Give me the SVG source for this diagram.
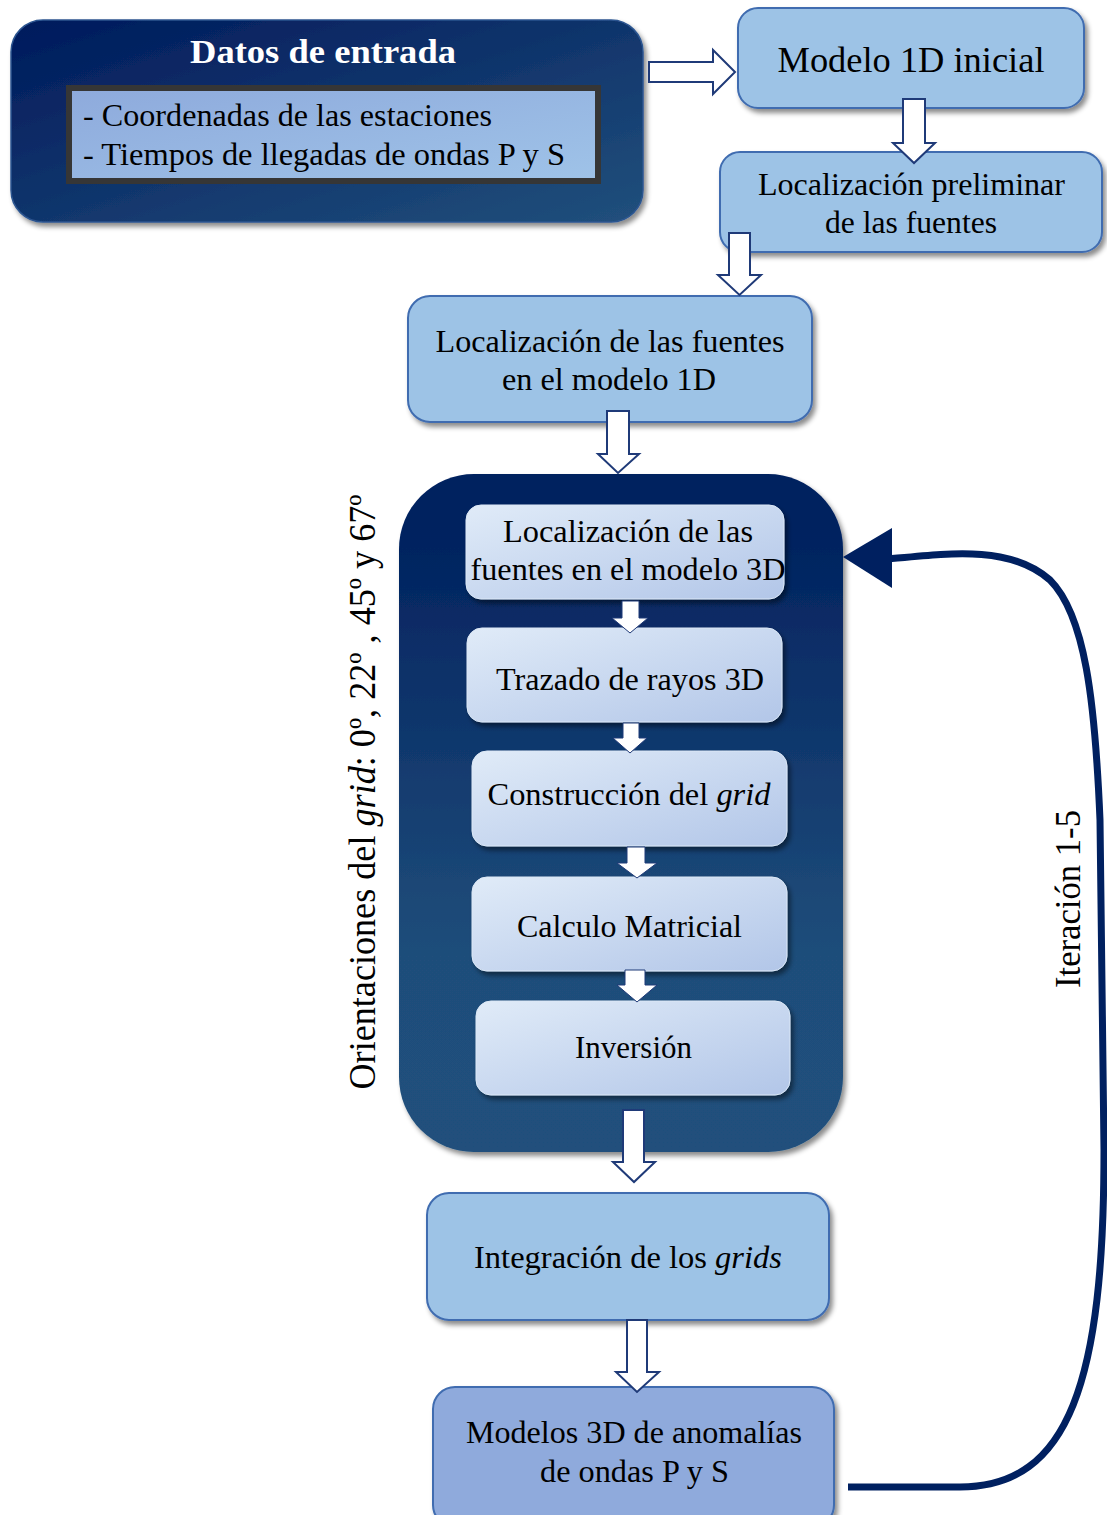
<svg xmlns="http://www.w3.org/2000/svg" width="1107" height="1515" viewBox="0 0 1107 1515" font-family="'Liberation Serif', 'Times New Roman', Times, Tinos, 'Nimbus Roman', serif">
<defs>
<linearGradient id="navyDiag" x1="0" y1="0" x2="1" y2="1">
<stop offset="0" stop-color="#001a5c"/>
<stop offset="1" stop-color="#21507c"/>
</linearGradient>
<linearGradient id="navyVert" x1="0" y1="0" x2="0" y2="1">
<stop offset="0.05" stop-color="#00205e"/>
<stop offset="0.7" stop-color="#1f4d7a"/>
<stop offset="1" stop-color="#20507c"/>
</linearGradient>
<linearGradient id="innerBlue" x1="0" y1="0" x2="1" y2="1">
<stop offset="0" stop-color="#8eaadc"/>
<stop offset="1" stop-color="#9fc3e8"/>
</linearGradient>
<linearGradient id="pale" x1="0" y1="0" x2="1" y2="1">
<stop offset="0" stop-color="#e0ebf8"/>
<stop offset="1" stop-color="#b2c6e8"/>
</linearGradient>
<filter id="sh" x="-10%" y="-10%" width="125%" height="130%">
<feDropShadow dx="3" dy="4" stdDeviation="2.5" flood-color="#000" flood-opacity="0.45"/>
</filter>
</defs>
<style>
text{font-family:'Liberation Serif','Times New Roman',Times,Tinos,serif;fill:#000;}
.t30{font-size:31px;text-anchor:middle;}
.blue{fill:#9dc3e6;stroke:#3f6cb0;stroke-width:2;}
.purple{fill:#8faadc;stroke:#3f6cb0;stroke-width:2;}
.paleNode{fill:url(#pale);stroke:#dce8f6;stroke-width:1;}
.blk{fill:#fff;stroke:#1f3a78;stroke-width:2;stroke-linejoin:miter;}
.sm{fill:#fff;stroke:#1f3a78;stroke-width:1;}
.it{font-style:italic;}
</style>

<g id="datos-entrada">
<rect x="11" y="20" width="632" height="202" rx="32" fill="url(#navyDiag)" stroke="#2c5590" stroke-width="1.5" filter="url(#sh)"/>
<text x="323" y="63" font-size="34" font-weight="bold" text-anchor="middle" style="fill:#fff" textLength="266" lengthAdjust="spacingAndGlyphs">Datos de entrada</text>
<rect x="69" y="88" width="529" height="93" fill="url(#innerBlue)" stroke="#363636" stroke-width="6"/>
<text x="83" y="126" font-size="32" textLength="409" lengthAdjust="spacingAndGlyphs">- Coordenadas  de las estaciones</text>
<text x="83" y="165" font-size="32" textLength="482" lengthAdjust="spacingAndGlyphs">- Tiempos de llegadas de ondas P y S</text>
</g>

<g id="modelo-1d-inicial">
<rect x="738" y="8" width="346" height="100" rx="20" class="blue" filter="url(#sh)"/>
<text x="911" y="72" font-size="36" text-anchor="middle" textLength="267" lengthAdjust="spacingAndGlyphs">Modelo 1D inicial</text>
</g>

<g id="localizacion-preliminar">
<rect x="720" y="152" width="382" height="100" rx="20" class="blue" filter="url(#sh)"/>
<text x="911.5" y="195" class="t30" textLength="307" lengthAdjust="spacingAndGlyphs">Localización  preliminar</text>
<text x="911" y="233" class="t30" textLength="172" lengthAdjust="spacingAndGlyphs">de las fuentes</text>
</g>

<g id="localizacion-1d">
<rect x="408" y="296" width="404" height="126" rx="22" class="blue" filter="url(#sh)"/>
<text x="610" y="352" class="t30" textLength="349" lengthAdjust="spacingAndGlyphs">Localización  de las fuentes</text>
<text x="609" y="390" class="t30" textLength="214" lengthAdjust="spacingAndGlyphs">en el modelo  1D</text>
</g>

<g id="contenedor-3d">
<rect x="399" y="474" width="444" height="678" rx="75" fill="url(#navyVert)" filter="url(#sh)"/>
</g>

<g id="localizacion-3d">
<rect x="466" y="505" width="318" height="94" rx="15" class="paleNode" filter="url(#sh)"/>
<text x="628" y="542" class="t30" textLength="250" lengthAdjust="spacingAndGlyphs">Localización  de las</text>
<text x="628" y="580" class="t30" textLength="315" lengthAdjust="spacingAndGlyphs">fuentes  en el modelo  3D</text>
</g>

<g id="trazado-rayos">
<rect x="467" y="628" width="315" height="94" rx="15" class="paleNode" filter="url(#sh)"/>
<text x="630" y="690" class="t30" textLength="268" lengthAdjust="spacingAndGlyphs">Trazado de rayos 3D</text>
</g>

<g id="construccion-grid">
<rect x="472" y="751" width="315" height="95" rx="15" class="paleNode" filter="url(#sh)"/>
<text x="629" y="805" class="t30" textLength="283" lengthAdjust="spacingAndGlyphs">Construcción  del <tspan class="it">grid</tspan></text>
</g>

<g id="calculo-matricial">
<rect x="472" y="877" width="315" height="94" rx="15" class="paleNode" filter="url(#sh)"/>
<text x="629.5" y="937" class="t30" textLength="225" lengthAdjust="spacingAndGlyphs">Calculo Matricial</text>
</g>

<g id="inversion">
<rect x="476" y="1001" width="314" height="94" rx="15" class="paleNode" filter="url(#sh)"/>
<text x="633.5" y="1058" class="t30" textLength="117" lengthAdjust="spacingAndGlyphs">Inversión</text>
</g>

<g id="integracion-grids">
<rect x="427" y="1193" width="402" height="127" rx="22" class="blue" filter="url(#sh)"/>
<text x="628" y="1268" class="t30" textLength="308" lengthAdjust="spacingAndGlyphs">Integración  de los <tspan class="it">grids</tspan></text>
</g>

<g id="modelos-3d">
<rect x="433" y="1387" width="401" height="140" rx="22" class="purple" filter="url(#sh)"/>
<text x="634" y="1443" class="t30" textLength="336" lengthAdjust="spacingAndGlyphs">Modelos  3D de anomalías</text>
<text x="634.5" y="1482" class="t30" textLength="189" lengthAdjust="spacingAndGlyphs">de ondas P y S</text>
</g>

<g id="etiquetas">
<text transform="translate(375,792) rotate(-90)" font-size="37" text-anchor="middle" textLength="595" lengthAdjust="spacingAndGlyphs">Orientaciones del <tspan class="it">grid</tspan>: 0º, 22º , 45º y 67º</text>
<text transform="translate(1080,899) rotate(-90)" font-size="35" text-anchor="middle" textLength="178" lengthAdjust="spacingAndGlyphs">Iteración 1-5</text>
</g>

<g id="conectores">
<polygon class="blk" points="649,62 713,62 713,50 735,72 713,94 713,82 649,82"/>
<polygon class="blk" points="903,99 925,99 925,143 935,143 914,163 893,143 903,143"/>
<polygon class="blk" points="729,233 750,233 750,275 761,275 739.5,295 718,275 729,275"/>
<polygon class="blk" points="607,411 629,411 629,454 639,454 618,473 598,454 607,454"/>
<polygon class="sm" points="622,601 639,601 639,618 648,618 630,633 612,618 622,618"/>
<polygon class="sm" points="623,723 639,723 639,738 647,738 630,753 613,738 623,738"/>
<polygon class="sm" points="627,847 645,847 645,863 657,863 637,878 617,863 627,863"/>
<polygon class="sm" points="625,970 645,970 645,985 657,985 637,1002 617,985 625,985"/>
<polygon class="blk" points="623,1110 644,1110 644,1162 655,1162 634,1182 613,1162 623,1162"/>
<polygon class="blk" points="627,1320 647,1320 647,1372 659,1372 637,1392 616,1372 627,1372"/>
<path d="M 848,1487 L 960,1487 C 1070,1487 1104,1380 1104,1150 L 1100,820 C 1095,700 1085,615 1050,580 C 1010,545 950,553 888,559" fill="none" stroke="#002060" stroke-width="7"/>
<polygon points="843,557 892,528 892,588" fill="#002060"/>
</g>
</svg>
